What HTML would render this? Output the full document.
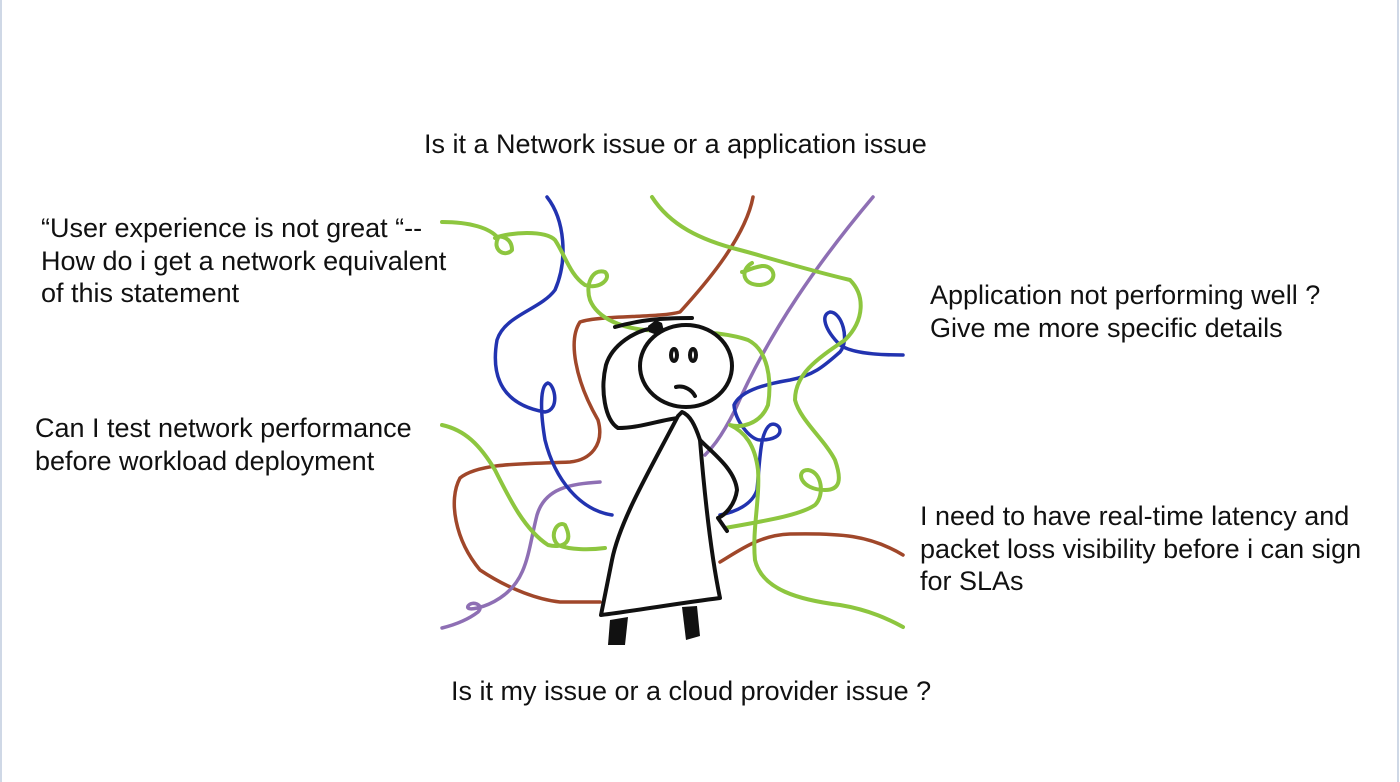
<!DOCTYPE html>
<html><head><meta charset="utf-8"><style>
html,body{margin:0;padding:0;background:#fff;}
body{width:1400px;height:782px;position:relative;overflow:hidden;font-family:"Liberation Sans",Arial,sans-serif;color:#111;}
.t{position:absolute;font-size:27px;line-height:32.5px;white-space:nowrap;}
.bl{position:absolute;left:0;top:0;width:2px;height:782px;background:#cfd8e6;}
.br{position:absolute;left:1397px;top:0;width:2px;height:782px;background:#cfd8e6;}
</style></head><body>
<div class="bl"></div><div class="br"></div>
<div class="t" style="left:424px;top:128px">Is it a Network issue or a application issue</div>
<div class="t" style="left:41px;top:212px">“User experience is not great “--<br>How do i get a network equivalent<br>of this statement</div>
<div class="t" style="left:35px;top:412px">Can I test network performance<br>before workload deployment</div>
<div class="t" style="left:930px;top:279px">Application not performing well ?<br>Give me more specific details</div>
<div class="t" style="left:920px;top:500px">I need to have real-time latency and<br>packet loss visibility before i can sign<br>for SLAs</div>
<div class="t" style="left:451px;top:675px">Is it my issue or a cloud provider issue ?</div>
<svg width="1400" height="782" style="position:absolute;left:0;top:0" fill="none" stroke-linecap="round" stroke-linejoin="round" stroke-width="3.5">
<path stroke="#a0472a" d="M753,197 C745,240 700,290 680,312 C660,318 600,315 580,322 C568,340 575,380 598,420 C605,445 590,460 570,462 C530,464 480,462 460,478 C448,500 455,540 480,570 C510,590 540,600 560,602 L600,602"/>
<path stroke="#a0472a" d="M720,562 C740,550 760,535 790,534 C840,533 870,535 903,555"/>
<path stroke="#8e6fb4" d="M873,197 C820,260 770,330 735,410 C720,440 710,450 705,455"/>
<path stroke="#8e6fb4" d="M600,482 C570,484 545,488 537,515 C528,550 528,580 500,598 C485,608 465,612 468,606 C472,600 485,605 478,612 C465,622 450,626 442,628"/>
<path stroke="#2233b0" d="M547,197 C565,220 568,260 555,290 C540,310 505,315 497,340 C490,380 505,405 545,412 C560,410 555,385 548,383 C540,385 540,410 545,440 C555,480 580,510 612,515"/>
<path stroke="#2233b0" d="M903,355 C870,355 850,352 840,345 C825,330 820,315 830,312 C842,312 850,340 840,352 C825,365 815,375 790,380 C760,385 740,392 734,405 C735,420 750,440 760,440 C790,440 780,420 770,425 C760,432 760,460 757,490 C752,505 735,512 720,515"/>
<path stroke="#8dc63f" stroke-width="4" d="M442,222 C470,222 490,228 498,238 C492,250 505,258 512,250 C512,238 500,234 495,238 C510,232 545,230 555,240 C565,255 570,275 585,285 C600,290 612,278 605,272 C592,268 585,285 590,300 C598,320 625,328 645,330 C680,332 720,330 748,340 C768,350 772,380 768,405 C760,425 740,428 730,425 C745,432 755,445 758,470 C760,500 752,530 755,560 C762,590 800,600 840,605 C870,610 890,620 903,627"/>
<path stroke="#8dc63f" stroke-width="4" d="M652,197 C670,225 700,240 740,250 C770,258 800,268 850,280 C865,295 865,320 845,340 C815,360 795,375 795,400 C800,420 825,440 835,460 C842,480 840,490 825,490 C800,490 795,470 808,470 C822,472 825,495 815,505 C800,515 770,520 725,528"/>
<path stroke="#8dc63f" stroke-width="4" d="M752,263 C740,270 742,285 760,285 C780,283 775,265 762,266 C750,268 745,272 742,272"/>
<path stroke="#8dc63f" stroke-width="4" d="M442,425 C465,430 480,445 495,470 C510,500 525,530 548,545 C560,548 575,545 565,525 C558,520 548,535 558,545 C570,550 590,550 605,548"/>
<g stroke="#111" stroke-width="4">
<ellipse cx="686" cy="366" rx="46" ry="41" fill="#fff"/>
<path d="M615,327 C640,320 660,318 692,318"/>
<path d="M655,328 C635,330 612,345 606,365 C600,390 605,420 618,428 C640,428 660,420 678,418"/>
<path d="M678,416 C650,470 620,520 612,560 L601,615 C640,610 680,603 720,598 C712,560 705,500 700,440 C695,425 690,415 682,412 Z" fill="#fff"/>
<path d="M700,440 C715,455 735,470 737,490 C735,505 725,515 718,518 L727,531"/>
<ellipse cx="674" cy="355" rx="3" ry="6"/>
<ellipse cx="693" cy="355" rx="3" ry="6"/>
<path d="M676,387 C684,385 692,390 695,396"/>
</g>
<path fill="#111" d="M648,326 l8,-6 6,3 2,8 -7,4 -8,-3z"/>
<path fill="#111" d="M610,620 L628,617 625,645 608,645 Z"/>
<path fill="#111" d="M682,607 L697,606 700,636 686,640 Z"/>
</svg>
</body></html>
